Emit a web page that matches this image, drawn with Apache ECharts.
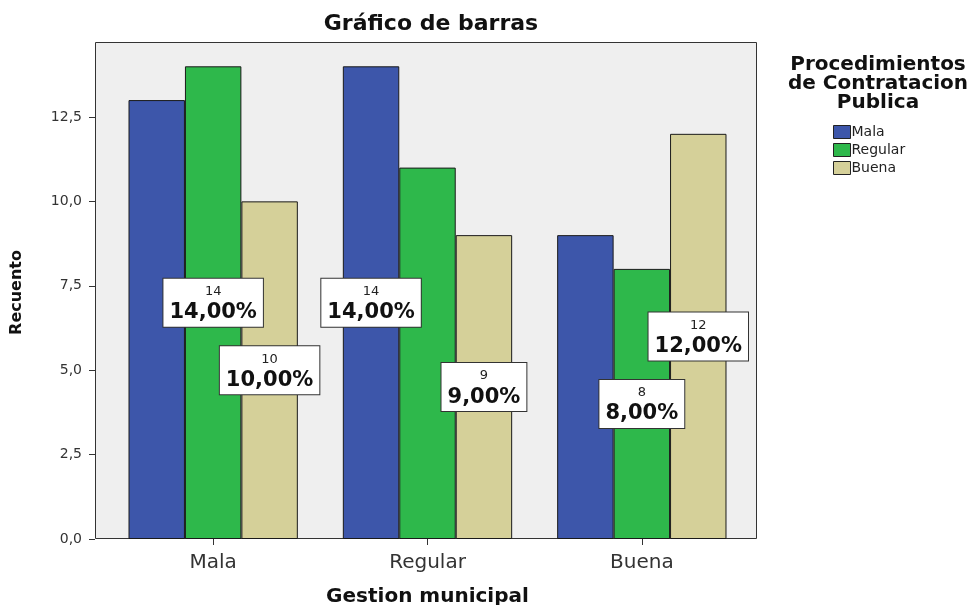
<!DOCTYPE html>
<html>
<head>
<meta charset="utf-8">
<script src="https://cdn.jsdelivr.net/npm/echarts@6/dist/echarts.min.js"></script>
<style>
  html, body { margin: 0; padding: 0; background: #fff; }
  #chart { width: 976px; height: 605px; }
</style>
</head>
<body>
<div id="chart"></div>
<script>
// categorías del eje X y series (recuentos)
const categories = ['Mala', 'Regular', 'Buena'];
const seriesNames = ['Mala', 'Regular', 'Buena'];
const malaValues = [13, 14, 9];
const regularValues = [14, 11, 8];
const buenaValues = [10, 9, 12];
// qué barras llevan etiqueta (por serie, por categoría)
const malaLabeled = [false, true, false];
const regularLabeled = [true, false, true];
const buenaLabeled = [true, true, true];
const yTicks = [0, 2.5, 5, 7.5, 10, 12.5];

const colors = ['#3d56aa', '#2eb84b', '#d5d099'];
const font = '"DejaVu Sans", "Liberation Sans", Arial, sans-serif';

const total = [...malaValues, ...regularValues, ...buenaValues].reduce((a, b) => a + b, 0);
const fmtComma = (v, d) => v.toFixed(d).replace('.', ',');

const labelStyle = {
  position: 'inside',
  backgroundColor: '#fff',
  borderColor: '#333',
  borderWidth: 1,
  padding: [4, 6, 2, 6],
  formatter: (p) => `{a|${p.value}}\n{b|${fmtComma(p.value / total * 100, 2)}%}`,
  rich: {
    a: { fontFamily: font, fontSize: 13, color: '#222', lineHeight: 18, align: 'center' },
    b: { fontFamily: font, fontSize: 21, fontWeight: 'bold', color: '#111', lineHeight: 24, align: 'center' }
  }
};

const buildData = (values, labeled) => values.map((v, i) => ({
  value: v,
  label: { show: labeled[i] }
}));

const allValues = [malaValues, regularValues, buenaValues];
const allLabeled = [malaLabeled, regularLabeled, buenaLabeled];

const chart = echarts.init(document.getElementById('chart'));

const option = {
  animation: false,
  textStyle: { fontFamily: font },
  title: [
    {
      text: 'Gráfico de barras',
      left: 426, top: 8, textAlign: 'center',
      textStyle: { fontFamily: font, fontSize: 22, fontWeight: 'bold', color: '#111' }
    },
    {
      text: 'Procedimientos\nde Contratacion\nPublica',
      left: 873, top: 50, textAlign: 'center',
      textStyle: { fontFamily: font, fontSize: 20, fontWeight: 'bold', color: '#111', lineHeight: 19 }
    }
  ],
  legend: {
    data: seriesNames,
    orient: 'vertical',
    left: 828, top: 120,
    itemWidth: 17, itemHeight: 13, itemGap: 4,
    icon: 'rect',
    textStyle: { fontFamily: font, fontSize: 14, color: '#222', padding: [0, 0, 0, -4] },
    itemStyle: { borderColor: '#222', borderWidth: 1 }
  },
  grid: { left: 106, right: 227, top: 42, bottom: 66, outerBoundsMode: 'none' },
  graphic: [
    {
      type: 'rect', z: -1,
      shape: { x: 95.5, y: 42.5, width: 661, height: 496 },
      style: { fill: '#efefef', stroke: '#333', lineWidth: 1 }
    },
    {
      type: 'text', left: 9, top: 250, rotation: Math.PI / 2,
      style: { text: 'Recuento', font: `bold 16px ${font}`, fill: '#111' }
    }
  ],
  xAxis: {
    type: 'category',
    data: categories,
    name: 'Gestion municipal',
    nameLocation: 'middle',
    nameGap: 48,
    nameTextStyle: { fontFamily: font, fontSize: 20, fontWeight: 'bold', color: '#111' },
    axisLine: { show: false },
    axisTick: { show: true, alignWithLabel: true, length: 6, lineStyle: { color: '#333' } },
    axisLabel: { fontFamily: font, fontSize: 20, color: '#333', margin: 14 }
  },
  yAxis: {
    type: 'value',
    min: 0, max: 14.72,
    offset: 11,
    splitLine: { show: false },
    axisLine: { show: false },
    axisTick: { show: true, length: 6, lineStyle: { color: '#333' }, customValues: yTicks },
    axisLabel: {
      fontFamily: font, fontSize: 14, color: '#333', margin: 13,
      customValues: yTicks,
      formatter: (v) => fmtComma(v, 1)
    }
  },
  series: seriesNames.map((name, k) => ({
    name: name,
    type: 'bar',
    data: buildData(allValues[k], allLabeled[k]),
    barGap: '0%',
    barCategoryGap: '21%',
    itemStyle: { color: colors[k], borderColor: '#1a1a1a', borderWidth: 1 },
    label: labelStyle
  }))
};

chart.setOption(option);
</script>
</body>
</html>
